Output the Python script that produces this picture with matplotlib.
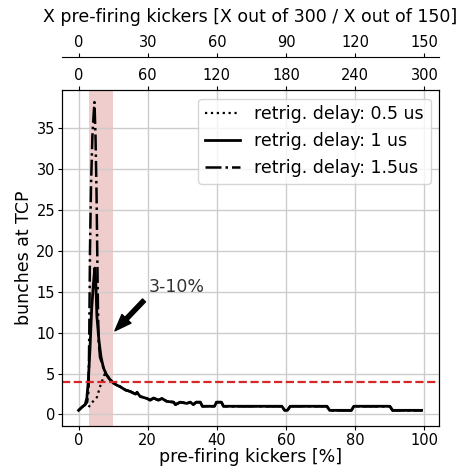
import matplotlib
matplotlib.use('Agg')
import matplotlib.pyplot as plt
import numpy as np

# shared tail of all three curves (they overlap after the peak)
tail_x = [8.0, 9.0, 10.2, 11.0, 12.0, 13.5, 15.0, 15.9, 16.5, 16.9, 17.8, 19.8, 20.7,
          21.7, 23.1, 24.1, 25.5, 27.5, 28.0, 29.4, 31.3, 32.3, 33.2, 34.0, 35.2,
          35.8, 39.3, 39.9, 41.3, 41.9, 58.8, 59.6, 60.4, 61.2, 71.8, 72.6, 78.9,
          79.6, 90.0, 90.8, 99.2]
tail_y = [4.9, 4.3, 3.8, 3.6, 3.4, 3.0, 2.8, 2.6, 2.5, 2.7, 2.2, 1.95, 1.75,
          2.0, 1.75, 1.95, 1.6, 1.5, 1.2, 1.5, 1.35, 1.5, 1.2, 1.5, 1.5,
          1.0, 1.0, 1.5, 1.5, 1.0, 1.0, 0.5, 0.5, 1.0, 1.0, 0.5, 0.5,
          1.0, 1.0, 0.5, 0.5]

# retrig. delay 1 us
head1_x = [0.0, 1.0, 1.9, 2.4, 2.8, 3.3, 3.8, 4.3, 4.7, 5.0, 5.3, 5.9, 6.5, 7.2]
head1_y = [0.5, 0.9, 1.2, 2.0, 4.0, 8.0, 13.0, 16.0, 17.9, 16.0, 12.0, 9.0, 7.0, 5.7]

# retrig. delay 0.5 us
head05_x = [2.9, 4.0, 5.3, 6.3, 7.6]
head05_y = [0.9, 1.5, 2.1, 3.5, 5.0]

# retrig. delay 1.5 us
head15_x = [0.0, 1.0, 1.9, 2.5, 2.9, 3.1, 3.3, 3.6, 4.0, 4.4, 4.6, 4.9, 5.2, 5.4, 5.6, 5.8, 6.2, 7.2]
head15_y = [0.5, 0.9, 1.2, 1.5, 3.0, 10.0, 20.0, 28.0, 34.0, 37.0, 38.2, 34.0, 27.0, 20.0, 13.0, 9.0, 7.0, 5.7]

threshold = 4
band = (3, 10)

fig = plt.figure(figsize=(4.59, 4.68), dpi=100)
ax = fig.add_axes([0.135, 0.09, 0.822, 0.718])

ax.axvspan(band[0], band[1], color='indianred', alpha=0.3, lw=0)
ax.plot(head05_x + tail_x, head05_y + tail_y, ':', color='k', lw=1.6,
        label='retrig. delay: 0.5 us')
ax.plot(head1_x + tail_x, head1_y + tail_y, '-', color='k', lw=2,
        label='retrig. delay: 1 us')
ax.plot(head15_x + tail_x, head15_y + tail_y, '-.', color='k', lw=1.8,
        label='retrig. delay: 1.5us')
ax.axhline(threshold, color='tab:red', ls='--', lw=1.6)

ax.annotate('3-10%', xy=(10, 10), xytext=(20.2, 15), fontsize=12.5,
            color='#333333', arrowprops=dict(facecolor='black', shrink=0.05,
                                             width=3, headwidth=9))

ax.set_xlim(-4.8, 104.3)
ax.set_ylim(-1.4, 39.7)
ax.set_xticks(np.arange(0, 101, 20))
ax.set_yticks(np.arange(0, 36, 5))
ax.grid(True, color='#cccccc', lw=1)
ax.tick_params(labelsize=10.5, length=3, pad=2)
ax.set_xlabel('pre-firing kickers [%]', fontsize=12.5, labelpad=0)
ax.set_ylabel('bunches at TCP', fontsize=12.5, labelpad=2)
ax.legend(loc='upper right', fontsize=12.5, handlelength=2.0)

lo, hi = ax.get_xlim()
ax2 = ax.twiny()
ax2.set_xlim(lo * 3, hi * 3)
ax2.set_xticks(np.arange(0, 301, 60))
ax2.tick_params(labelsize=10.5, length=3, pad=2)

ax3 = ax.twiny()
ax3.set_xlim(lo * 1.5, hi * 1.5)
ax3.set_xticks(np.arange(0, 151, 30))
ax3.spines['top'].set_position(('outward', 24))
ax3.tick_params(labelsize=10.5, length=3, pad=2)
for s in ['left', 'right', 'bottom']:
    ax3.spines[s].set_visible(False)
ax3.set_xlabel('X pre-firing kickers [X out of 300 / X out of 150]', fontsize=12.5,
               labelpad=9)

fig.savefig('out.png', dpi=100)
